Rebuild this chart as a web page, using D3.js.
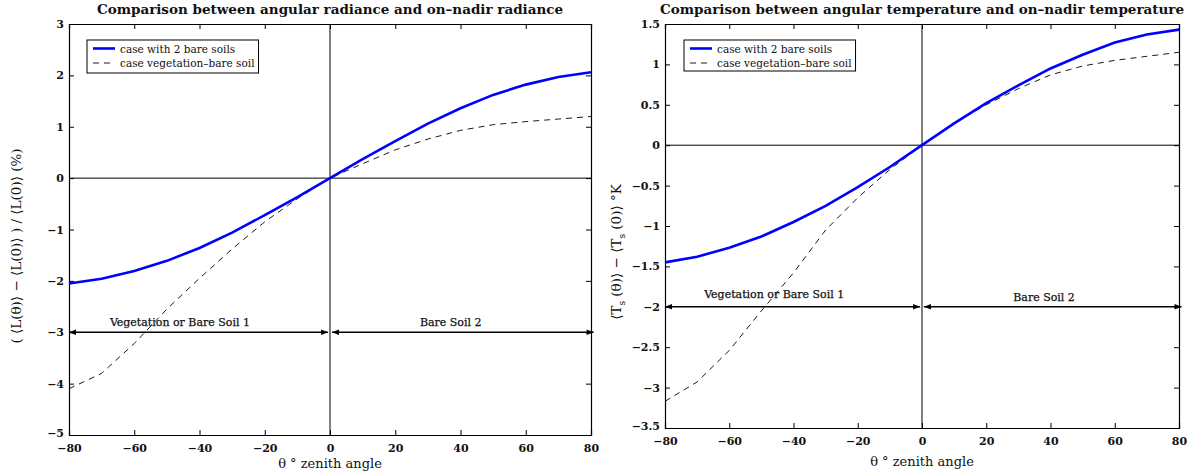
<!DOCTYPE html>
<html>
<head>
<meta charset="utf-8">
<script src="https://cdn.jsdelivr.net/npm/d3@7"></script>
<style>
  body { margin: 0; background: #fff; }
  text { font-family: "DejaVu Serif", serif; fill: #111; }
</style>
</head>
<body>
<svg id="chart" width="1190" height="473"></svg>
<script>
// datos
const angles = [-80, -70, -60, -50, -40, -30, -20, -10, 0, 10, 20, 30, 40, 50, 60, 70, 80]
const radBare = [-2.05, -1.96, -1.81, -1.61, -1.36, -1.06, -0.72, -0.37, 0, 0.37, 0.72, 1.06, 1.36, 1.62, 1.82, 1.97, 2.06]
const radVeg = [-4.1, -3.8, -3.22, -2.55, -1.95, -1.38, -0.85, -0.4, 0, 0.28, 0.55, 0.76, 0.93, 1.04, 1.1, 1.15, 1.2]
const tempBare = [-1.45, -1.38, -1.27, -1.13, -0.95, -0.75, -0.52, -0.27, 0, 0.27, 0.52, 0.74, 0.95, 1.12, 1.27, 1.37, 1.43]
const tempVeg = [-3.17, -2.93, -2.54, -2.05, -1.58, -1.05, -0.65, -0.3, 0, 0.27, 0.5, 0.7, 0.87, 0.98, 1.05, 1.1, 1.15]

const xTicks = [-80, -60, -40, -20, 0, 20, 40, 60, 80]
const radYTicks = [-5, -4, -3, -2, -1, 0, 1, 2, 3]
const tempYTicks = [-3.5, -3, -2.5, -2, -1.5, -1, -0.5, 0, 0.5, 1, 1.5]

const legendLabels = ['case with 2 bare soils', 'case vegetation\u2013bare soil']
const zoneLabels = ['Vegetation or Bare Soil 1', 'Bare Soil 2']

const svg = d3.select('#chart')
const fmt = v => String(v).replace('-', '\u2212')

// marcador de flecha
const defs = svg.append('defs')
defs.append('marker')
    .attr('id', 'arrow')
    .attr('viewBox', '0 0 10 10')
    .attr('refX', 10).attr('refY', 5)
    .attr('markerWidth', 8).attr('markerHeight', 7)
    .attr('markerUnits', 'userSpaceOnUse')
    .attr('orient', 'auto-start-reverse')
    .append('path')
    .attr('d', 'M0,1 L10,5 L0,9 Z')
    .attr('fill', '#000')

function drawPanel(cfg) {
    const { left, right, top, bottom } = cfg
    const g = svg.append('g')

    const x = d3.scaleLinear().domain([-80, 80]).range([left, right])
    const y = d3.scaleLinear().domain(cfg.yDomain).range([bottom, top])

    // ejes con ticks hacia dentro
    g.append('g')
        .attr('transform', `translate(0,${bottom})`)
        .call(d3.axisBottom(x).tickValues(xTicks).tickSize(-5).tickPadding(9).tickFormat(fmt))
    g.append('g')
        .attr('transform', `translate(0,${top})`)
        .call(d3.axisTop(x).tickValues(xTicks).tickSize(-5).tickFormat(''))
    g.append('g')
        .attr('transform', `translate(${left},0)`)
        .call(d3.axisLeft(y).tickValues(cfg.yTicks).tickSize(-5).tickPadding(5).tickFormat(fmt))
    g.append('g')
        .attr('transform', `translate(${right},0)`)
        .call(d3.axisRight(y).tickValues(cfg.yTicks).tickSize(-5).tickFormat(''))

    g.selectAll('.domain').attr('stroke', '#000').attr('stroke-width', 1.2)
    g.selectAll('.tick line').attr('stroke', '#000')
    g.selectAll('.tick text')
        .style('font-family', '"DejaVu Serif", serif')
        .style('font-size', '11px')
        .style('font-weight', 'bold')
        .attr('fill', '#111')
    // el último tick del eje y queda un poco más arriba, como en el original
    g.selectAll('.tick text').filter(d => d === cfg.yDomain[0]).attr('dy', '0.1em')

    // líneas de referencia
    g.append('line')
        .attr('x1', x(0)).attr('x2', x(0))
        .attr('y1', top).attr('y2', bottom)
        .attr('stroke', '#000').attr('stroke-width', 1)
    g.append('line')
        .attr('x1', left).attr('x2', right)
        .attr('y1', y(0)).attr('y2', y(0))
        .attr('stroke', '#000').attr('stroke-width', 1)

    const line = d3.line().x((d, i) => x(angles[i])).y(d => y(d))

    g.append('path')
        .datum(cfg.veg)
        .attr('d', line)
        .attr('fill', 'none')
        .attr('stroke', '#000')
        .attr('stroke-width', 0.9)
        .attr('stroke-dasharray', '6,5')

    g.append('path')
        .datum(cfg.bare)
        .attr('d', line)
        .attr('fill', 'none')
        .attr('stroke', '#0000ff')
        .attr('stroke-width', 2.6)

    // flechas de zonas
    const ay = y(cfg.arrowY)
    const segs = [[-80, -0.6], [0.6, 80.8]]
    segs.forEach(s => {
        g.append('line')
            .attr('x1', x(s[0])).attr('x2', x(s[1]))
            .attr('y1', ay).attr('y2', ay)
            .attr('stroke', '#000').attr('stroke-width', 1.6)
            .attr('marker-start', 'url(#arrow)')
            .attr('marker-end', 'url(#arrow)')
    })
    zoneLabels.forEach((t, i) => {
        g.append('text')
            .attr('x', x(cfg.zoneX[i]))
            .attr('y', ay - cfg.zoneDy[i])
            .attr('text-anchor', 'middle')
            .style('font-size', '11px')
            .style('stroke', '#111').style('stroke-width', 0.25)
            .text(t)
    })

    // leyenda
    const lg = g.append('g').attr('transform', `translate(${cfg.legend[0]},${cfg.legend[1]})`)
    const box = lg.append('rect')
        .attr('height', cfg.legend[2])
        .attr('fill', '#fff').attr('stroke', '#000').attr('stroke-width', 1)
    let maxW = 0
    legendLabels.forEach((t, i) => {
        const ly = 8.5 + i * 14.5
        lg.append('line')
            .attr('x1', 6).attr('x2', 28)
            .attr('y1', ly).attr('y2', ly)
            .attr('stroke', i === 0 ? '#0000ff' : '#000')
            .attr('stroke-width', i === 0 ? 2.6 : 0.9)
            .attr('stroke-dasharray', i === 0 ? null : '6,5')
        const tx = lg.append('text')
            .attr('x', 33).attr('y', ly + 4)
            .style('font-size', '10.5px')
            .text(t)
        maxW = Math.max(maxW, tx.node().getComputedTextLength())
    })
    box.attr('width', 33 + maxW + 4)

    // títulos
    g.append('text')
        .attr('x', (left + right) / 2).attr('y', 14)
        .attr('text-anchor', 'middle')
        .style('font-size', '13.5px')
        .style('font-weight', 'bold')
        .text(cfg.title)

    g.append('text')
        .attr('x', (left + right) / 2).attr('y', cfg.xLabelY)
        .attr('text-anchor', 'middle')
        .style('font-size', '13px')
        .text('\u03b8 \u00b0 zenith angle')

    const yl = g.append('text')
        .attr('transform', `translate(${cfg.yLabelX},${cfg.yLabelC}) rotate(-90)`)
        .attr('text-anchor', 'middle')
        .style('font-size', '13.5px')
    cfg.yLabel(yl)
}

drawPanel({
    left: 69, right: 591, top: 24, bottom: 435,
    yDomain: [-5, 3], yTicks: radYTicks,
    bare: radBare, veg: radVeg,
    arrowY: -3, zoneX: [-46, 37], zoneDy: [6, 6],
    legend: [87, 40, 33],
    title: 'Comparison between angular radiance and on\u2013nadir radiance',
    xLabelY: 468, yLabelX: 21, yLabelC: 246,
    yLabel: t => t.text('( \u27e8L(\u03b8)\u27e9 \u2212 \u27e8L(0)\u27e9 ) / \u27e8L(0)\u27e9 (%)')
})

drawPanel({
    left: 665, right: 1179, top: 24, bottom: 428,
    yDomain: [-3.5, 1.5], yTicks: tempYTicks,
    bare: tempBare, veg: tempVeg,
    arrowY: -2, zoneX: [-46, 38], zoneDy: [9, 6],
    legend: [684, 40, 31],
    title: 'Comparison between angular temperature and on\u2013nadir temperature',
    xLabelY: 466, yLabelX: 621, yLabelC: 252,
    yLabel: t => {
        t.append('tspan').text('\u27e8T')
        t.append('tspan').attr('dy', 4).style('font-size', '9px').text('s')
        t.append('tspan').attr('dy', -4).text(' (\u03b8)\u27e9 \u2212 \u27e8T')
        t.append('tspan').attr('dy', 4).style('font-size', '9px').text('s')
        t.append('tspan').attr('dy', -4).text(' (0)\u27e9 \u00b0K')
    }
})
</script>
</body>
</html>
